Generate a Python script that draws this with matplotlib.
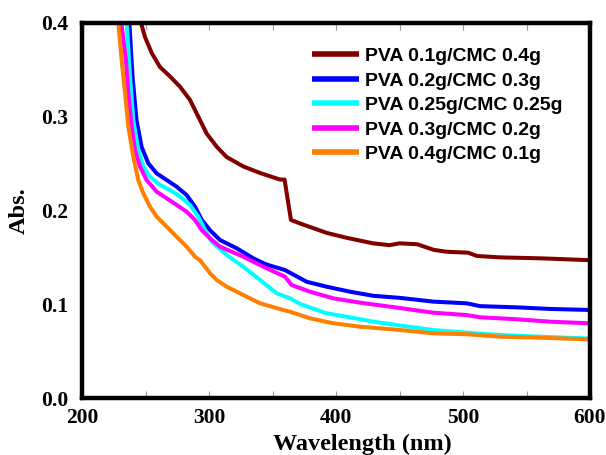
import matplotlib
matplotlib.use("Agg")
import matplotlib.pyplot as plt
from matplotlib.ticker import MultipleLocator, FormatStrFormatter

# UV-Vis absorbance of PVA/CMC blend films
labels = [
    "PVA 0.1g/CMC 0.4g",
    "PVA 0.2g/CMC 0.3g",
    "PVA 0.25g/CMC 0.25g",
    "PVA 0.3g/CMC 0.2g",
    "PVA 0.4g/CMC 0.1g",
]
colors = ["#800000", "#0000FF", "#00FFFF", "#FF00FF", "#FF8000"]

wl_maroon = [245, 246.5, 249.6, 254.9, 261.4, 269.3, 277.2, 285, 291.6, 298.2, 306.1,
             313.9, 327, 340.2, 355.9, 359.5, 364.5, 372, 393, 408, 429, 442, 450,
             464, 477, 487, 504, 511, 529, 561, 600]
abs_maroon = [0.42, 0.40, 0.385, 0.368, 0.353, 0.343, 0.332, 0.318, 0.300, 0.282, 0.268,
              0.257, 0.247, 0.240, 0.233, 0.233, 0.190, 0.186, 0.176, 0.171, 0.165,
              0.163, 0.165, 0.164, 0.158, 0.156, 0.155, 0.1515, 0.150, 0.149, 0.147]

wl_blue = [236, 237.3, 239.8, 242.9, 246.9, 252.2, 258.8, 266.7, 274.5, 282.4, 289,
           294.3, 300.8, 308.7, 321.8, 334.9, 345, 359.8, 376.9, 392.7, 411, 429.4,
           450.4, 476.6, 502.9, 513.4, 542.3, 568.5, 600]
abs_blue = [0.42, 0.40, 0.343, 0.2965, 0.268, 0.2503, 0.2396, 0.2325, 0.2254, 0.2165,
            0.204, 0.190, 0.179, 0.1685, 0.1597, 0.149, 0.1425, 0.1365, 0.124, 0.1187,
            0.1134, 0.109, 0.1068, 0.1028, 0.101, 0.098, 0.0967, 0.095, 0.0939]

wl_cyan = [234, 235.2, 237.8, 240.4, 244.3, 248.3, 253.5, 261.4, 269.3, 277.2, 285,
           291.6, 296.9, 302, 313.9, 327, 340.2, 353.3, 363.8, 371.7, 392.7, 408.4,
           429.4, 450.4, 476.6, 502.9, 529.1, 560.6, 600]
abs_cyan = [0.42, 0.40, 0.343, 0.2965, 0.2645, 0.2467, 0.236, 0.2272, 0.2219, 0.2148,
            0.2059, 0.1934, 0.179, 0.167, 0.1525, 0.140, 0.1259, 0.1117, 0.1063, 0.1003,
            0.0903, 0.0867, 0.0814, 0.0773, 0.0725, 0.0697, 0.0672, 0.0654, 0.0634]

wl_magenta = [229.5, 231, 234.6, 236.5, 239.1, 241.7, 245.7, 250.9, 258.8, 266.7,
              274.5, 282.4, 289, 294.3, 300.8, 308.7, 327, 342.8, 359.8, 365.1, 379.5,
              397.9, 418.9, 450.4, 476.6, 502.9, 513.4, 542.3, 568.5, 600]
abs_magenta = [0.42, 0.40, 0.3605, 0.325, 0.2894, 0.2645, 0.2467, 0.2325, 0.220, 0.213,
               0.2059, 0.1987, 0.1899, 0.179, 0.1703, 0.1614, 0.1507, 0.140, 0.1294,
               0.1205, 0.1134, 0.1063, 0.1017, 0.096, 0.091, 0.0885, 0.0861, 0.084,
               0.0814, 0.0797]

wl_orange = [227, 228.6, 231.2, 233.9, 236.5, 240.4, 244.3, 248.3, 253.5, 258.8, 266.7,
             274.5, 282.4, 289, 292.9, 296.9, 300.8, 306.1, 313.9, 321.8, 329.7, 340.2,
             358.5, 363.8, 379.5, 397.9, 418.9, 450.4, 476.6, 502.9, 529.1, 560.6, 600]
abs_orange = [0.42, 0.40, 0.3605, 0.325, 0.2894, 0.2575, 0.2325, 0.2183, 0.204, 0.1934,
              0.1827, 0.172, 0.1614, 0.1507, 0.147, 0.140, 0.133, 0.1259, 0.1187, 0.1134,
              0.108, 0.101, 0.0939, 0.092, 0.085, 0.0797, 0.0761, 0.0725, 0.069, 0.068,
              0.0654, 0.0643, 0.0625]

series = [
    (wl_maroon, abs_maroon),
    (wl_blue, abs_blue),
    (wl_cyan, abs_cyan),
    (wl_magenta, abs_magenta),
    (wl_orange, abs_orange),
]

serif = ["Liberation Serif", "DejaVu Serif"]
sans = ["Liberation Sans", "DejaVu Sans"]

fig = plt.figure(figsize=(6.06, 4.55), dpi=100)
ax = fig.add_axes([82 / 606, 1 - 398 / 455, 508 / 606, 375 / 455])

for (wl, ab), lab, col in zip(series, labels, colors):
    ax.plot(wl, ab, color=col, lw=2.9, label=lab,
            solid_joinstyle="round", solid_capstyle="butt")

ax.set_xlim(200, 600)
ax.set_ylim(0.0, 0.4)
ax.xaxis.set_major_locator(MultipleLocator(100))
ax.xaxis.set_minor_locator(MultipleLocator(50))
ax.yaxis.set_major_locator(MultipleLocator(0.1))
ax.yaxis.set_major_formatter(FormatStrFormatter("%.1f"))

ax.tick_params(axis="x", which="both", direction="in", top=True, length=5,
               width=0.8, color="#999999", pad=7)
ax.tick_params(axis="y", which="both", length=0, pad=10)
for lbl in ax.get_xticklabels() + ax.get_yticklabels():
    lbl.set_fontfamily(serif)
    lbl.set_fontweight("bold")
    lbl.set_fontsize(15.5)

for sp in ax.spines.values():
    sp.set_linewidth(3.2)
    sp.set_color("black")

ax.set_xlabel("Wavelength (nm)", family=serif, fontweight="bold", fontsize=17.5,
              labelpad=5)
ax.xaxis.set_label_coords(0.552, -0.095)
ax.set_ylabel("Abs.", family=serif, fontweight="bold", fontsize=17.5, labelpad=8)

leg = ax.legend(loc="upper left", bbox_to_anchor=(0.437, 0.955), frameon=False,
                prop={"family": sans, "weight": "bold", "size": 14},
                handlelength=2.45, handletextpad=0.3, labelspacing=0.35,
                borderaxespad=0)
for h in leg.get_lines():
    h.set_linewidth(4)

fig.savefig("out.png", dpi=100)
